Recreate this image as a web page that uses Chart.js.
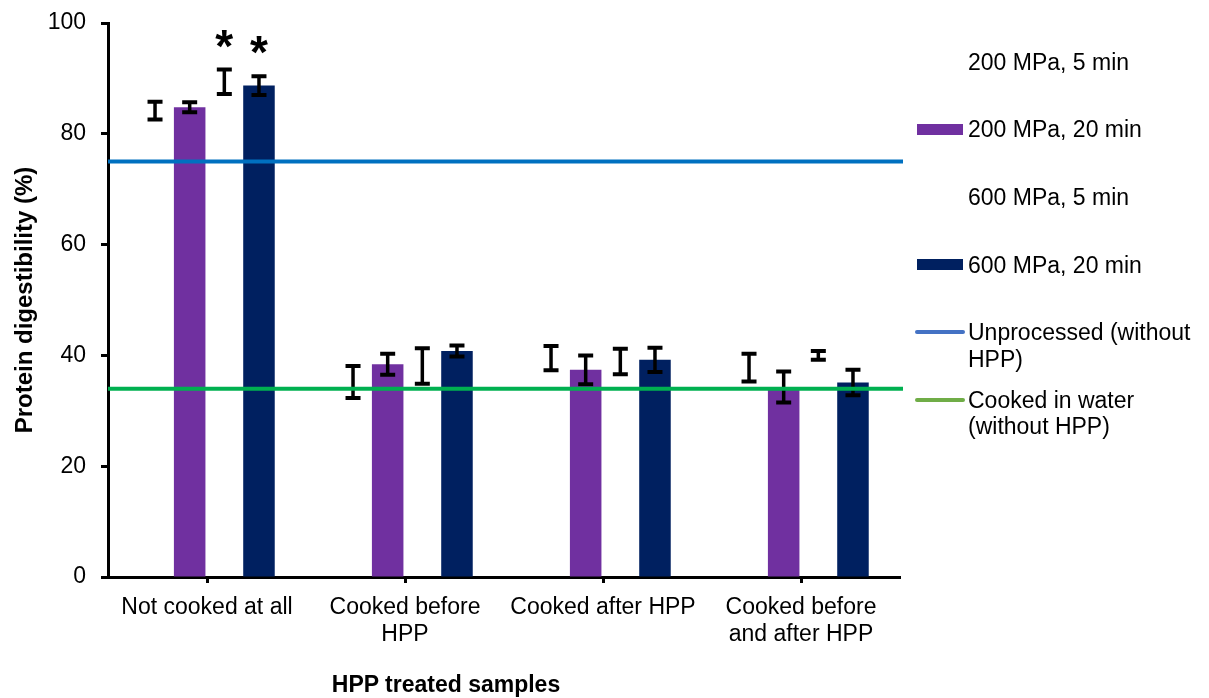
<!DOCTYPE html>
<html>
<head>
<meta charset="utf-8">
<script src="https://cdn.jsdelivr.net/npm/chart.js@4.4.1/dist/chart.umd.min.js"></script>
<style>
  body { margin: 0; background: #fff; }
  #wrap { position: relative; width: 1209px; height: 698px; font-family: "Liberation Sans", Arial, sans-serif; color: #000; }
  #xTitle { position: absolute; left: 446px; top: 671px; transform: translateX(-50%); font-weight: bold; font-size: 23px; white-space: nowrap; }
  .lg { position: absolute; left: 968px; width: 240px; font-size: 23px; line-height: 26.5px; }
  .sw { position: absolute; }
</style>
</head>
<body>
<div id="wrap">
  <canvas id="digestChart" width="1209" height="698"></canvas>
  <div id="xTitle">HPP treated samples</div>
  <div id="legend"></div>
</div>
<script>
// protein digestibility after HPP treatments

const categories = ["Not cooked at all", ["Cooked before", "HPP"], "Cooked after HPP", ["Cooked before", "and after HPP"]];
const seriesNames = ["200 MPa, 5 min", "200 MPa, 20 min", "600 MPa, 5 min", "600 MPa, 20 min"];
const seriesColors = ["rgba(255,255,255,0)", "#7030A0", "rgba(255,255,255,0)", "#002060"];

const p200m5 = [84.2, 35.2, 39.5, 37.8];
const p200m20 = [84.8, 38.4, 37.4, 34.3];
const p600m5 = [89.4, 38.1, 38.9, 40.0];
const p600m20 = [88.7, 40.8, 39.2, 35.1];

const err200m5 = [1.6, 2.9, 2.2, 2.5];
const err200m20 = [0.9, 1.9, 2.6, 2.8];
const err600m5 = [2.2, 3.2, 2.3, 0.8];
const err600m20 = [1.7, 1.0, 2.2, 2.3];

const sig200m5 = ["", "", "", ""];
const sig200m20 = ["", "", "", ""];
const sig600m5 = ["*", "", "", ""];
const sig600m20 = ["*", "", "", ""];

// reference levels (samples without HPP)
const lineNames = ["Unprocessed (without HPP)", "Cooked in water (without HPP)"];
const refValues = [75, 34];
const lineColors = ["#0070C0", "#00B050"];
const lineLegendColors = ["#4472C4", "#70AD47"];

const yTicks = [0, 20, 40, 60, 80, 100];

const values = [p200m5, p200m20, p600m5, p600m20];
const errors = [err200m5, err200m20, err600m5, err600m20];
const sigs = [sig200m5, sig200m20, sig600m5, sig600m20];

const FONT = '"Liberation Sans", Arial, sans-serif';

// error bars + asterisks, drawn right after each bar dataset
const errorBarPlugin = {
  id: "errorBars",
  afterDatasetDraw(chart, args) {
    const ds = chart.data.datasets[args.index];
    const yScale = chart.scales.y;
    const c = chart.ctx;
    c.save();
    c.strokeStyle = "#000";
    args.meta.data.forEach((bar, i) => {
      const v = ds.data[i];
      const e = ds.errors[i];
      const top = yScale.getPixelForValue(v + e);
      const bot = yScale.getPixelForValue(v - e);
      const x = bar.x;
      c.lineWidth = 3.5;
      c.beginPath();
      c.moveTo(x, top); c.lineTo(x, bot);
      c.stroke();
      c.lineWidth = 4;
      c.beginPath();
      c.moveTo(x - 7.5, top); c.lineTo(x + 7.5, top);
      c.moveTo(x - 7.5, bot); c.lineTo(x + 7.5, bot);
      c.stroke();
      if (ds.sig[i]) {
        c.fillStyle = "#000";
        c.font = "bold 46px " + FONT;
        c.textAlign = "center";
        c.textBaseline = "alphabetic";
        c.fillText(ds.sig[i], x, top - 8);
      }
    });
    c.restore();
  }
};

// horizontal reference lines across the plot, on top of bars and error bars
const refLinePlugin = {
  id: "refLines",
  afterDatasetsDraw(chart) {
    const { ctx: c, chartArea: area, scales: { y } } = chart;
    c.save();
    c.lineWidth = 4;
    refValues.forEach((v, k) => {
      const py = y.getPixelForValue(v);
      c.strokeStyle = lineColors[k];
      c.beginPath();
      c.moveTo(area.left, py);
      c.lineTo(area.right + 3, py);
      c.stroke();
    });
    c.restore();
  }
};

const barSets = seriesNames.map((name, k) => ({
  label: name,
  data: values[k],
  errors: errors[k],
  sig: sigs[k],
  backgroundColor: seriesColors[k],
  barPercentage: 0.91,
  categoryPercentage: 0.7,
}));

const ctx = document.getElementById("digestChart").getContext("2d");
const digestChart = new Chart(ctx, {
  type: "bar",
  data: { labels: categories, datasets: barSets },
  options: {
    responsive: false,
    animation: false,
    layout: { padding: { left: 0, top: 23, right: 309, bottom: 0 } },
    plugins: { legend: { display: false }, tooltip: { enabled: false } },
    scales: {
      x: {
        border: { display: true, color: "#000", width: 3 },
        grid: { display: true, offset: false, drawOnChartArea: false, drawTicks: true, tickLength: 6, tickWidth: 3, tickColor: "#000" },
        ticks: { color: "#000", font: { family: FONT, size: 23, lineHeight: 1.17 }, padding: 11, maxRotation: 0, autoSkip: false },
        afterFit(scale) { scale.height = 121; },
      },
      y: {
        min: 0,
        max: 100,
        border: { display: true, color: "#000", width: 3 },
        grid: { display: true, drawOnChartArea: false, drawTicks: true, tickLength: 7, tickWidth: 3, tickColor: "#000" },
        afterBuildTicks(scale) { scale.ticks = yTicks.map(v => ({ value: v })); },
        ticks: { color: "#000", font: { family: FONT, size: 23 }, padding: 15 },
        title: { display: true, text: "Protein digestibility (%)", color: "#000", font: { family: FONT, size: 24, weight: "bold" }, padding: { top: 11, bottom: 0 } },
        afterFit(scale) { scale.width = 108; scale.paddingTop = 0; scale.paddingBottom = 0; },
      },
    },
  },
  plugins: [errorBarPlugin, refLinePlugin],
});

// legend on the right, built from the series names and colours
const legend = document.getElementById("legend");
const legendItems = [
  ...seriesNames.map((n, k) => ({ name: n, color: seriesColors[k], kind: "bar" })),
  ...lineNames.map((n, k) => ({ name: n, color: lineLegendColors[k], kind: "line" })),
];
legendItems.forEach((item, i) => {
  const centerY = 62 + 67.6 * i;
  const txt = document.createElement("div");
  txt.className = "lg";
  txt.style.top = (centerY - 13.25) + "px";
  txt.textContent = item.name;
  legend.appendChild(txt);
  const sw = document.createElement("div");
  sw.className = "sw";
  if (item.kind === "bar") {
    Object.assign(sw.style, { left: "917px", width: "46px", height: "11px", top: (centerY - 6) + "px", background: item.color });
  } else {
    Object.assign(sw.style, { left: "915px", width: "50px", height: "4px", top: (centerY - 2) + "px", background: item.color, borderRadius: "2px" });
  }
  legend.appendChild(sw);
});
</script>
</body>
</html>
